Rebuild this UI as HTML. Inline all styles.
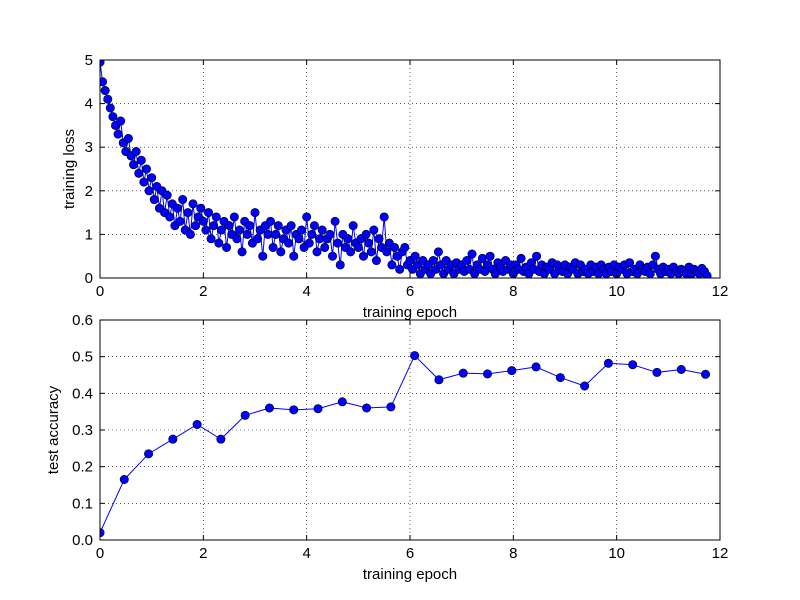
<!DOCTYPE html>
<html><head><meta charset="utf-8"><style>
html,body{margin:0;padding:0;background:#fff;}
svg{display:block;font-family:"Liberation Sans","DejaVu Sans",sans-serif;}
</style></head><body>
<svg id="chart" width="800" height="600" viewBox="0 0 800 600" xmlns="http://www.w3.org/2000/svg">
<rect x="0" y="0" width="800" height="600" fill="#fff"/>
</svg>
<script>
const lossStep = 0.05;
const lossValues = [
4.95,4.5,4.3,4.1,3.9,3.7,3.5,3.3,3.6,3.1,2.9,3.2,2.8,2.6,2.9,2.4,2.7,2.2,2.5,2.0,
2.3,1.8,2.1,1.6,2.0,1.5,1.9,1.4,1.7,1.2,1.6,1.3,1.8,1.1,1.5,1.0,1.7,1.2,1.4,1.6,
1.3,1.1,1.5,0.9,1.2,1.4,0.8,1.1,1.3,0.7,1.2,1.0,1.4,0.9,1.1,0.6,1.3,1.0,1.2,0.8,
1.5,0.9,1.1,0.5,1.2,1.0,1.3,0.7,1.0,1.2,0.6,0.9,1.1,0.8,1.2,0.5,1.0,0.9,1.1,0.7,
1.4,0.8,1.0,1.2,0.6,0.9,1.1,0.7,0.9,1.0,0.5,1.3,0.8,0.3,1.0,0.7,0.9,0.6,1.2,0.8,
0.7,0.9,0.5,1.0,0.8,0.6,1.1,0.4,0.9,0.7,1.4,0.6,0.8,0.3,0.7,0.5,0.2,0.6,0.7,0.3,
0.4,0.2,0.5,0.3,0.1,0.4,0.2,0.3,0.1,0.4,0.2,0.6,0.3,0.1,0.4,0.2,0.3,0.1,0.35,0.2,
0.3,0.15,0.4,0.2,0.55,0.1,0.3,0.2,0.45,0.15,0.3,0.5,0.2,0.1,0.35,0.25,0.15,0.4,0.2,0.3,
0.1,0.3,0.2,0.45,0.15,0.25,0.1,0.35,0.2,0.5,0.15,0.3,0.1,0.25,0.2,0.35,0.1,0.3,0.2,0.15,
0.3,0.1,0.25,0.2,0.35,0.1,0.3,0.15,0.2,0.1,0.3,0.15,0.25,0.1,0.3,0.2,0.1,0.25,0.15,0.3,
0.1,0.25,0.2,0.3,0.1,0.35,0.15,0.2,0.1,0.3,0.2,0.15,0.25,0.1,0.3,0.5,0.2,0.1,0.25,0.15,
0.2,0.1,0.25,0.15,0.1,0.2,0.15,0.1,0.25,0.1,0.2,0.15,0.1,0.22,0.15,0.05
];
const accEpochs = [0,0.47,0.94,1.41,1.88,2.34,2.81,3.28,3.75,4.22,4.69,5.16,5.63,6.09,6.56,7.03,7.5,7.97,8.44,8.91,9.38,9.84,10.31,10.78,11.25,11.72];
const accValues = [0.02,0.165,0.235,0.275,0.315,0.275,0.34,0.36,0.355,0.358,0.377,0.36,0.363,0.503,0.437,0.455,0.453,0.462,0.472,0.443,0.42,0.482,0.478,0.457,0.465,0.452];
const xTicks = [0,2,4,6,8,10,12];
const lossTicks = [0,1,2,3,4,5];
const accTicks = [0,0.1,0.2,0.3,0.4,0.5,0.6];
const accTickLabels = ["0.0","0.1","0.2","0.3","0.4","0.5","0.6"];

const svg = document.getElementById('chart');
const NS = 'http://www.w3.org/2000/svg';
function mk(tag, attrs, parent){const e=document.createElementNS(NS,tag);for(const k in attrs)e.setAttribute(k,attrs[k]);(parent||svg).appendChild(e);return e;}

function drawPanel(cfg){
  const {left,right,top,bottom,xmax,ymax,yTicks,yLabels,name,ylabel} = cfg;
  const xs = v => left + (v/xmax)*(right-left);
  const ys = v => bottom - (v/ymax)*(bottom-top);
  const g = mk('g',{});
  
  
  // grid
  xTicks.forEach(t=>{ if(t>0&&t<xmax){const l=mk('line',{x1:xs(t),x2:xs(t),y1:top,y2:bottom,stroke:'#000','stroke-width':0.6,'stroke-dasharray':'1,3'},g);
    
    }});
  yTicks.forEach(t=>{ if(t>0&&t<ymax){const l=mk('line',{x1:left,x2:right,y1:ys(t),y2:ys(t),stroke:'#000','stroke-width':0.6,'stroke-dasharray':'1,3'},g);
    
    }});
  cfg.drawData(g, xs, ys);
  // frame
  const f = mk('rect',{x:left,y:top,width:right-left,height:bottom-top,fill:'none',stroke:'#000','stroke-width':1},g);
  
  
  // ticks & labels
  xTicks.forEach(t=>{
    mk('line',{x1:xs(t),x2:xs(t),y1:bottom,y2:bottom-5,stroke:'#000'},g);
    mk('line',{x1:xs(t),x2:xs(t),y1:top,y2:top+5,stroke:'#000'},g);
    const tx = mk('text',{x:xs(t),y:bottom+18,'text-anchor':'middle','font-size':15},g);
    tx.textContent = t;
    
    
  });
  yTicks.forEach((t,i)=>{
    mk('line',{x1:left,x2:left+5,y1:ys(t),y2:ys(t),stroke:'#000'},g);
    mk('line',{x1:right,x2:right-5,y1:ys(t),y2:ys(t),stroke:'#000'},g);
    const tx = mk('text',{x:left-7,y:ys(t)+5,'text-anchor':'end','font-size':15},g);
    tx.textContent = yLabels[i];
    
    
  });
  const xl = mk('text',{x:(left+right)/2,y:bottom+39,'text-anchor':'middle','font-size':15},g);
  xl.textContent = 'training epoch';
  
  
  const cy=(top+bottom)/2, cx=cfg.ylabelX;
  const yl = mk('text',{x:cx,y:cy,'text-anchor':'middle','font-size':15,transform:`rotate(-90 ${cx} ${cy})`},g);
  yl.textContent = ylabel;
  
  
}

function series(g, pts, name, r){
  const clip = 'clip-'+name;
  const cp = mk('clipPath',{id:clip},g);
  mk('rect',{x:pts.left,y:pts.top,width:pts.right-pts.left,height:pts.bottom-pts.top},cp);
  const sg = mk('g',{'clip-path':`url(#${clip})`},g);
  const line = mk('polyline',{points:pts.list.map(p=>p[0]+','+p[1]).join(' '),fill:'none',stroke:'#0000ff','stroke-width':1},sg);
  
  
  pts.list.forEach(p=>{
    const c = mk('circle',{cx:p[0],cy:p[1],r:r,fill:'#0000ff',stroke:'#000','stroke-width':0.6},sg);
    
    
  });
}

drawPanel({left:100,right:720,top:60,bottom:278,xmax:12,ymax:5,yTicks:lossTicks,yLabels:lossTicks.map(String),name:'loss',ylabel:'training loss',ylabelX:74,
  drawData:(g,xs,ys)=>{
    series(g,{left:100,right:720,top:60,bottom:278,list:lossValues.map((v,i)=>[xs(i*lossStep),ys(v)])},'loss',4.2);
  }});
drawPanel({left:100,right:720,top:320,bottom:540,xmax:12,ymax:0.6,yTicks:accTicks,yLabels:accTickLabels,name:'accuracy',ylabel:'test accuracy',ylabelX:58,
  drawData:(g,xs,ys)=>{
    series(g,{left:100,right:720,top:320,bottom:540,list:accEpochs.map((e,i)=>[xs(e),ys(accValues[i])])},'accuracy',4.2);
  }});
</script>
</body></html>
